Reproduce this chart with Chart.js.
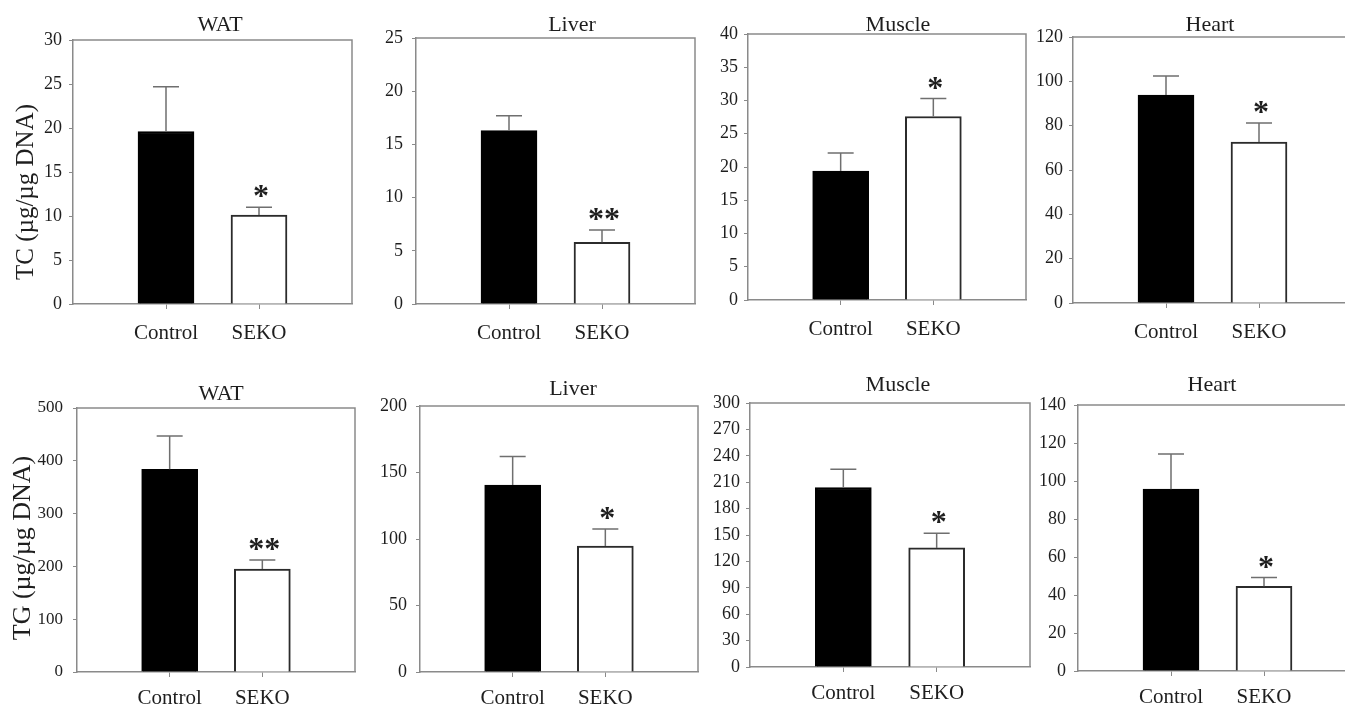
<!DOCTYPE html>
<html>
<head>
<meta charset="utf-8">
<script src="https://cdn.jsdelivr.net/npm/chart.js@4.4.1/dist/chart.umd.min.js"></script>
<style>
  html, body { margin: 0; background: #fff; overflow: hidden; }
  #wrap { position: relative; width: 1345px; height: 706px; overflow: hidden; }
  #wrap canvas { position: absolute; }
</style>
</head>
<body>
<div id="wrap"></div>
<script>
const groups = ["Control", "SEKO"];
const organs = ["WAT", "Liver", "Muscle", "Heart"];

// total cholesterol (µg/µg DNA), mean and SEM per organ
const tcMeans = [[19.6, 10.1], [16.3, 5.8], [19.4, 27.6], [93.8, 72.6]];
const tcErrors = [[5.1, 0.9], [1.4, 1.15], [2.7, 2.7], [8.6, 8.6]];
const tcMax = [30, 25, 40, 120];
const tcStep = [5, 5, 5, 20];
const tcStars = ["*", "**", "*", "*"];

// triglyceride (µg/µg DNA)
const tgMeans = [[384, 195], [140.6, 94.7], [204, 135.3], [95.7, 44.6]];
const tgErrors = [[63, 17], [21.4, 12.8], [20.8, 16.6], [18.5, 4.6]];
const tgMax = [500, 200, 300, 140];
const tgStep = [100, 50, 30, 20];
const tgStars = ["**", "*", "*", "*"];

const FONT = "'Liberation Serif', 'Times New Roman', serif";
const AXIS = "#8a8a8a";
const INK = "#1e1e1e";

// plot frames [left, top, right, bottom], title centres, y tick padding and size
const rows = [
  {
    label: "TC (µg/µg DNA)", labelSize: 25, labelPos: [26, 192], tickPad: 11,
    means: tcMeans, errors: tcErrors, max: tcMax, step: tcStep, stars: tcStars,
    frames: [[73, 40, 352, 304], [416, 38, 695, 304], [748, 34, 1026, 300], [1073, 37, 1352, 303]],
    titles: [[220, 24], [572, 24], [898, 24], [1210, 24]],
    yPad: [7, 9, 6, 6],
    ySize: [18, 18, 18, 18],
  },
  {
    label: "TG (µg/µg DNA)", labelSize: 26, labelPos: [23, 548], tickPad: 8,
    means: tgMeans, errors: tgErrors, max: tgMax, step: tgStep, stars: tgStars,
    frames: [[77, 408, 355, 672], [420, 406, 698, 672], [750, 403, 1030, 667], [1078, 405, 1357, 671]],
    titles: [[221, 393], [573, 388], [898, 384], [1212, 384]],
    yPad: [10, 9, 6, 8],
    ySize: [17, 18, 18, 18],
  },
];

// frame, error bars, significance marks, titles
const extras = {
  id: "extras",
  afterDatasetsDraw(chart, args, o) {
    const { ctx, chartArea: a, scales } = chart;
    const x = scales.x, y = scales.y;
    ctx.save();
    ctx.strokeStyle = AXIS;
    ctx.lineWidth = 1.5;
    ctx.beginPath();
    ctx.moveTo(a.left, a.top);
    ctx.lineTo(a.right, a.top);
    ctx.lineTo(a.right, a.bottom);
    ctx.stroke();

    o.means.forEach((m, i) => {
      const cx = x.getPixelForValue(i + 1);
      const y0 = y.getPixelForValue(m);
      const y1 = y.getPixelForValue(m + o.errors[i]);
      ctx.strokeStyle = "#6f6f6f";
      ctx.lineWidth = 1.5;
      ctx.beginPath();
      ctx.moveTo(cx, y0);
      ctx.lineTo(cx, y1);
      ctx.moveTo(cx - 13, y1);
      ctx.lineTo(cx + 13, y1);
      ctx.stroke();
      if (i === 1) {
        ctx.fillStyle = INK;
        ctx.font = "bold 32px " + FONT;
        ctx.textAlign = "center";
        ctx.textBaseline = "alphabetic";
        ctx.fillText(o.star, cx + 2, y1 - 1);
      }
    });

    ctx.fillStyle = INK;
    ctx.font = "22px " + FONT;
    ctx.textAlign = "center";
    ctx.textBaseline = "alphabetic";
    ctx.fillText(o.title, o.titleX, o.titleY + 7);

    if (o.yLabel) {
      ctx.translate(o.yLabel.x, o.yLabel.y);
      ctx.rotate(-Math.PI / 2);
      ctx.font = o.yLabel.size + "px " + FONT;
      ctx.textBaseline = "middle";
      ctx.fillText(o.yLabel.text, 0, 0);
    }
    ctx.restore();
  },
};

const wrap = document.getElementById("wrap");

rows.forEach((row) => {
  organs.forEach((organ, k) => {
    const [l, t, r, b] = row.frames[k];
    const ml = k === 0 ? l - 1 : 62;
    const mt = 44, mb = 44, mr = 6;
    const left = l - ml, top = t - mt;
    const w = r - l + ml + mr, h = b - t + mt + mb;

    const cv = document.createElement("canvas");
    cv.width = w;
    cv.height = h;
    cv.style.left = left + "px";
    cv.style.top = top + "px";
    cv.style.width = w + "px";
    cv.style.height = h + "px";
    wrap.appendChild(cv);

    new Chart(cv, {
      type: "bar",
      data: {
        labels: ["", ...groups, ""],
        datasets: [
          {
            data: [null, ...row.means[k], null],
            backgroundColor: ["#000", "#000", "#fff", "#fff"],
            borderColor: ["#000", "#000", "#2b2b2b", "#2b2b2b"],
            borderWidth: 2,
            barThickness: 56,
          },
        ],
      },
      options: {
        responsive: false,
        animation: false,
        events: [],
        layout: { padding: { top: mt, right: mr, left: 0, bottom: 0 } },
        plugins: {
          legend: { display: false },
          tooltip: { enabled: false },
          extras: {
            means: row.means[k],
            errors: row.errors[k],
            star: row.stars[k],
            title: organ,
            titleX: row.titles[k][0] - left,
            titleY: row.titles[k][1] - top,
            yLabel: k === 0 ? { text: row.label, size: row.labelSize, x: row.labelPos[0] - left, y: row.labelPos[1] - top } : null,
          },
        },
        scales: {
          x: {
            offset: false,
            afterFit: (s) => { s.height = mb; s.paddingLeft = 0; s.paddingRight = 0; },
            border: { color: AXIS, width: 1.5 },
            grid: {
              offset: false,
              drawOnChartArea: false,
              tickLength: 5,
              color: (c) => (c.index === 1 || c.index === 2 ? AXIS : "rgba(0,0,0,0)"),
            },
            ticks: { color: INK, font: { family: FONT, size: 21 }, padding: row.tickPad + 1, maxRotation: 0, autoSkip: false },
          },
          y: {
            min: 0,
            max: row.max[k],
            afterFit: (s) => { s.width = ml; s.paddingTop = 0; s.paddingBottom = 0; },
            border: { color: AXIS, width: 1.5 },
            grid: { drawOnChartArea: false, tickLength: 4, color: AXIS },
            ticks: { stepSize: row.step[k], color: INK, font: { family: FONT, size: row.ySize[k] }, padding: row.yPad[k] },
          },
        },
      },
      plugins: [extras],
    });
  });
});
</script>
</body>
</html>
